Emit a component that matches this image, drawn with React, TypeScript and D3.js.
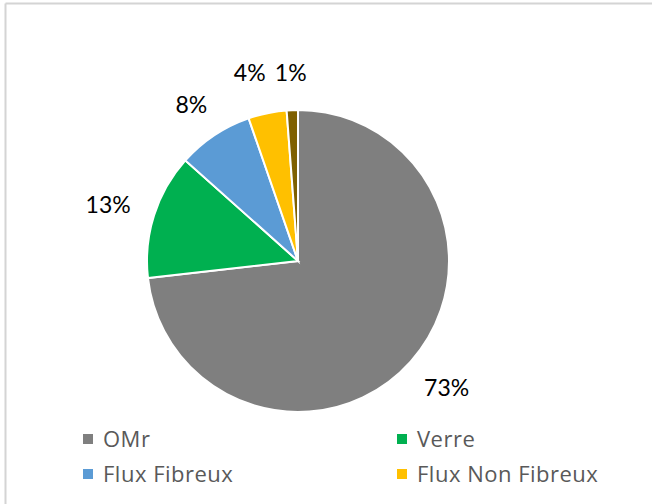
import React from "react";
import * as d3 from "d3";

const categories = ["OMr", "Verre", "Flux Fibreux", "Flux Non Fibreux", "Autres"];
const values = [73.2, 13.4, 8.1, 4.1, 1.2];
const labels = ["73%", "13%", "8%", "4%", "1%"];
const colors = ["#7f7f7f", "#00b050", "#5b9bd5", "#ffc000", "#7f6000"];
const legendCount = 4;

const W = 652;
const H = 504;

export default function App() {
  const cx = 298;
  const cy = 261;
  const r = 151;

  const pie = d3.pie<number>().sort(null).value((d) => d);
  const arcs = pie(values);
  const arcGen = d3.arc<d3.PieArcDatum<number>>().innerRadius(0).outerRadius(r);

  const labelW = (s: string) => s.length * 13.5;
  const labelH = 20;
  const gap = 28;

  const pos = arcs.map((a, i) => {
    const mid = (a.startAngle + a.endAngle) / 2;
    const s = Math.sin(mid);
    const c = Math.cos(mid);
    const rr = r + gap;
    return {
      x: rr * s + (s * labelW(labels[i])) / 2,
      y: -rr * c - (c * labelH) / 2,
      w: labelW(labels[i]),
    };
  });
  for (let i = pos.length - 2; i >= 0; i--) {
    const a = pos[i];
    const b = pos[i + 1];
    const overlapY = Math.abs(a.y - b.y) < labelH;
    const minGap = 14;
    if (overlapY && a.x + a.w / 2 > b.x - b.w / 2 - minGap && a.x < b.x) {
      a.x = b.x - b.w / 2 - minGap - a.w / 2;
      a.y = b.y;
    }
  }

  const legendX = d3.scalePoint<number>().domain([0, 1]).range([83, 397]);
  const legendY = d3.scalePoint<number>().domain([0, 1]).range([434, 469]);

  return (
    <svg
      width={W}
      height={H}
      style={{ position: "absolute", left: 0, top: 0 }}
    >
      <rect x={0} y={0} width={W} height={H} fill="#ffffff" />
      <line x1={5.5} y1={3.5} x2={W} y2={3.5} stroke="#d4d4d4" strokeWidth={2} />
      <line x1={5.5} y1={3.5} x2={5.5} y2={H} stroke="#d4d4d4" strokeWidth={2} />
      <g transform={`translate(${cx},${cy})`}>
        {arcs.map((a, i) => (
          <path
            key={categories[i]}
            d={arcGen(a) || ""}
            fill={colors[i]}
            stroke="#ffffff"
            strokeWidth={2}
          />
        ))}
        {pos.map((p, i) => (
          <text
            key={"l" + i}
            x={p.x}
            y={p.y}
            textAnchor="middle"
            dominantBaseline="central"
            fontFamily="Lato, 'Open Sans', sans-serif"
            fontSize={23}
            fill="#000000"
          >
            {labels[i]}
          </text>
        ))}
      </g>
      {categories.slice(0, legendCount).map((name, i) => {
        const col = i % 2;
        const row = Math.floor(i / 2);
        const x = legendX(col) as number;
        const y = legendY(row) as number;
        return (
          <g key={"leg" + i}>
            <rect x={x} y={y} width={10} height={10} fill={colors[i]} />
            <text
              x={x + 20}
              y={y + 13}
              fontFamily="'Open Sans', sans-serif"
              fontSize={22}
              letterSpacing={0.5}
              fill="#595959"
            >
              {name}
            </text>
          </g>
        );
      })}
    </svg>
  );
}
